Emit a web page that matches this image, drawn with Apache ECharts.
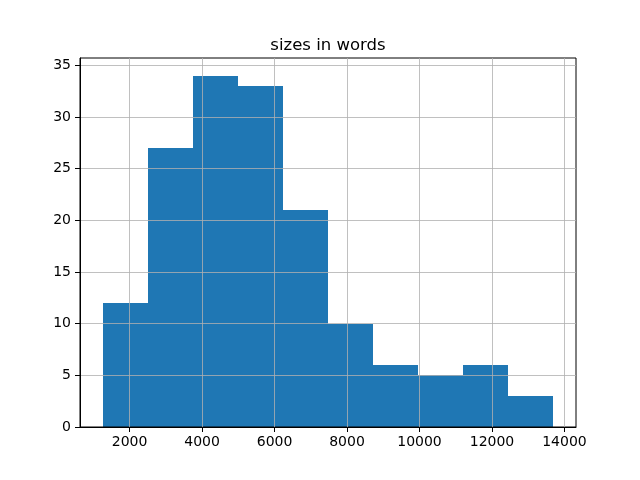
<!DOCTYPE html>
<html>
<head>
<meta charset="utf-8">
<script src="https://cdn.jsdelivr.net/npm/echarts@6/dist/echarts.min.js"></script>
<style>html,body{margin:0;padding:0;background:#fff;}#c{width:640px;height:480px;}</style>
</head>
<body>
<div id="c"></div>
<script>
const titleText = 'sizes in words';
const binEdges = [1254, 2498, 3742, 4986, 6230, 7474, 8718, 9962, 11206, 12450, 13694];
const counts = [12, 27, 34, 33, 21, 10, 6, 5, 6, 3];
const xTicks = [2000, 4000, 6000, 8000, 10000, 12000, 14000];
const yTicks = [0, 5, 10, 15, 20, 25, 30, 35];

const data = counts.map((c, i) => [binEdges[i], binEdges[i + 1], c]);
const font = 'DejaVu Sans';
const chart = echarts.init(document.getElementById('c'), null, {renderer: 'canvas'});
chart.setOption({
  animation: false,
  backgroundColor: '#fff',
  title: {
    text: titleText, left: 323, top: 32, textAlign: 'center',
    textStyle: {fontFamily: font, fontSize: 16.5, fontWeight: 'normal', color: '#000'}
  },
  grid: {left: 80, right: 64, top: 58, bottom: 53, show: true, borderColor: '#000', borderWidth: 1, backgroundColor: 'transparent', z: 10},
  xAxis: {
    type: 'value', min: 632, max: 14318, z: 10,
    axisLine: {show: true, onZero: false, lineStyle: {color: '#000', width: 1}},
    axisTick: {show: true, length: 5, lineStyle: {color: '#000'}, customValues: xTicks},
    axisLabel: {fontFamily: font, fontSize: 14, color: '#000', margin: 8, customValues: xTicks, formatter: v => String(v)},
    splitLine: {show: true, lineStyle: {color: '#b0b0b0', width: 0.8}}
  },
  yAxis: {
    type: 'value', min: 0, max: 35.7, z: 10,
    axisLine: {show: true, lineStyle: {color: '#000', width: 1}},
    axisTick: {show: true, length: 5, lineStyle: {color: '#000'}, customValues: yTicks},
    axisLabel: {fontFamily: font, fontSize: 14, color: '#000', margin: 9, customValues: yTicks},
    splitLine: {show: true, lineStyle: {color: '#b0b0b0', width: 0.8}}
  },
  series: [{
    type: 'custom', z: 1,
    renderItem: function (params, api) {
      const p0 = api.coord([api.value(0), api.value(2)]);
      const p1 = api.coord([api.value(1), 0]);
      const x0 = Math.round(p0[0]), x1 = Math.round(p1[0]);
      const y0 = Math.round(p0[1]), y1 = Math.round(p1[1]);
      return {type: 'rect', shape: {x: x0, y: y0, width: x1 - x0, height: y1 - y0}, style: {fill: '#1f77b4'}};
    },
    encode: {x: [0, 1], y: 2},
    data: data
  }]
});
</script>
</body>
</html>
